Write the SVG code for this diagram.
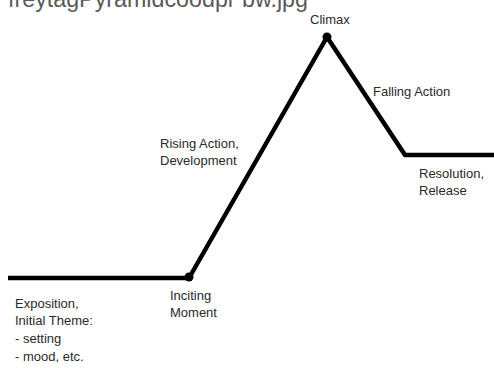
<svg xmlns="http://www.w3.org/2000/svg" width="494" height="368" viewBox="0 0 494 368">
<style>
.t{font-family:"Liberation Sans",Arial,sans-serif;font-size:13px;fill:#2a2a2a}
.cap{font-family:"Liberation Sans",Arial,sans-serif;font-size:23px;fill:#5a5a5a}
.ln{fill:none;stroke:#000;stroke-width:4.5;stroke-linejoin:round}
</style>
<rect width="494" height="368" fill="#fff"/>
<text class="cap" x="8" y="7" textLength="300" lengthAdjust="spacingAndGlyphs">freytagPyramidcoodpr bw.jpg</text>
<g id="connectors">
<polyline class="ln" points="8,278 189,278 327,37 405,155 494,155"/>
</g>
<g id="exposition"><text class="t" x="15" y="308">Exposition,</text><text class="t" x="15" y="325">Initial Theme:</text><text class="t" x="15" y="343">- setting</text><text class="t" x="15" y="361">- mood, etc.</text></g>
<g id="inciting"><circle cx="189" cy="277" r="4.5"/><text class="t" x="170" y="300">Inciting</text><text class="t" x="170" y="317">Moment</text></g>
<g id="rising"><text class="t" x="160" y="148">Rising Action,</text><text class="t" x="160" y="165">Development</text></g>
<g id="climax"><circle cx="327" cy="37" r="4.5"/><text class="t" x="310" y="24">Climax</text></g>
<g id="falling"><text class="t" x="373" y="96">Falling Action</text></g>
<g id="resolution"><text class="t" x="419" y="178">Resolution,</text><text class="t" x="419" y="195">Release</text></g>
</svg>
